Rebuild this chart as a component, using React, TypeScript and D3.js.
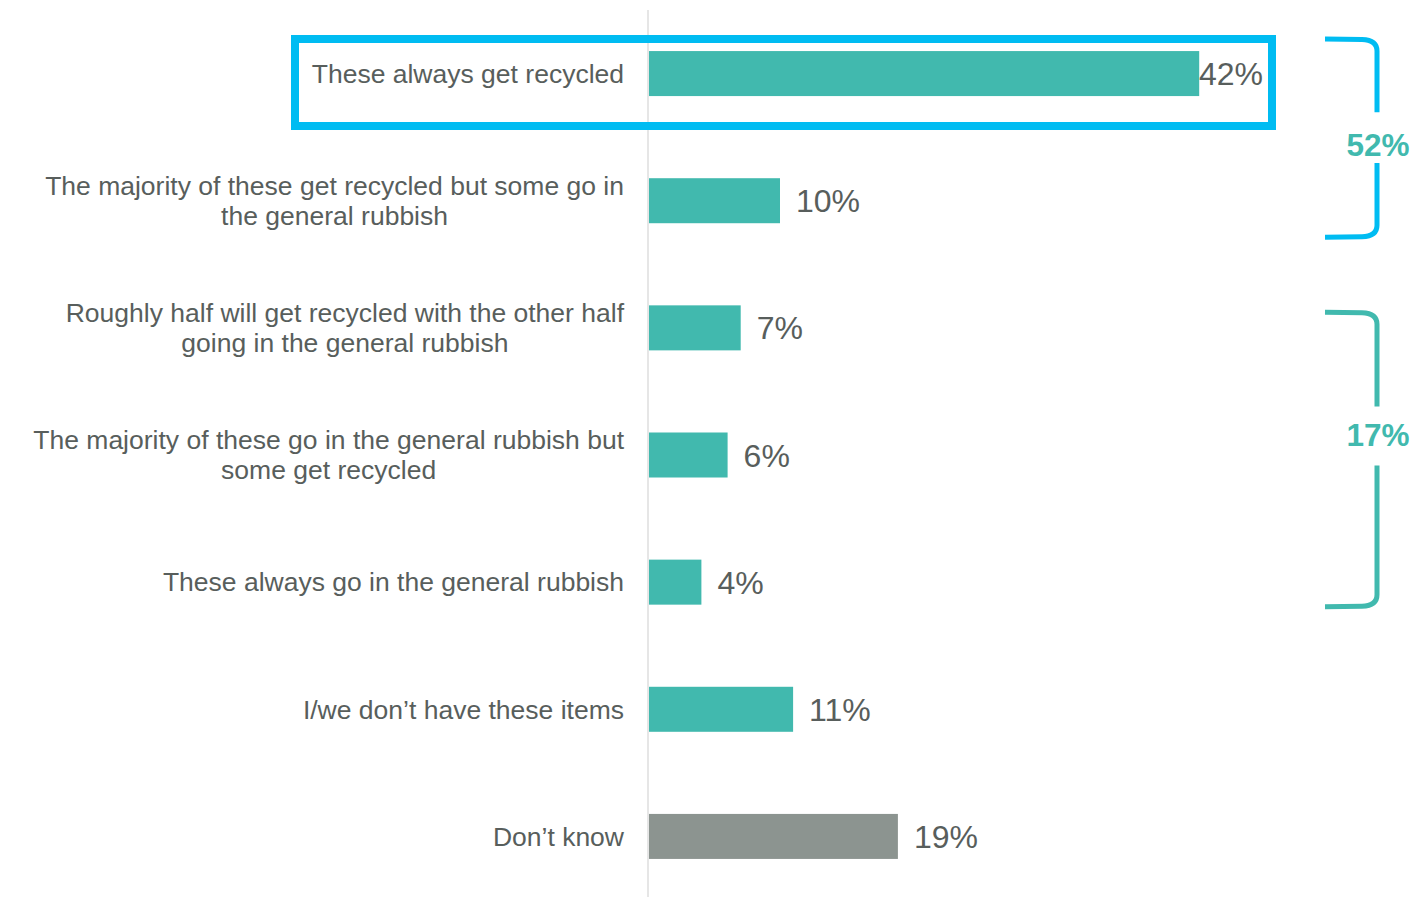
import React from "react";
import * as d3 from "d3";

const categories: string[][] = [
  ["These always get recycled"],
  ["The majority of these get recycled but some go in", "the general rubbish"],
  ["Roughly half will get recycled with the other half", "going in the general rubbish"],
  ["The majority of these go in the general rubbish but", "some get recycled"],
  ["These always go in the general rubbish"],
  ["I/we don\u2019t have these items"],
  ["Don\u2019t know"],
];
const values: number[] = [42, 10, 7, 6, 4, 11, 19];
const barColors: string[] = ["#41b9ae", "#41b9ae", "#41b9ae", "#41b9ae", "#41b9ae", "#41b9ae", "#8c9490"];

const groupLabels: string[] = ["52%", "17%"];
const groupStart: number[] = [0, 2];
const groupEnd: number[] = [1, 4];
const groupColors: string[] = ["#00bcf2", "#41b9ae"];
const groupTextColor = "#41b9ae";

const W = 1412;
const H = 897;
const FONT = "'Liberation Sans', Arial, sans-serif";
const TEXT = "#585e5c";
const LABEL_SIZE = 26.5;
const LABEL_RIGHT = 624;

function measure(text: string, size: number): number {
  const c = document.createElement("canvas").getContext("2d");
  if (!c) return text.length * size * 0.5;
  c.font = `${size}px ${FONT}`;
  return c.measureText(text).width;
}

export default function App() {
  const keys = categories.map((c) => c.join(" "));
  const x = d3.scaleLinear().domain([0, 50]).range([649, 649 + 655]);
  const y = d3
    .scaleBand<string>()
    .domain(keys)
    .range([10, 900])
    .paddingInner(0.646)
    .paddingOuter(0.323);
  const bw = y.bandwidth();

  const padTop = [12, -7];
  const padBot = [14, 2];
  const textFrac = [0.535, 0.418];
  const gapTopFrac = [0.369, 0.32];
  const gapBotFrac = [0.626, 0.52];

  return (
    <div style={{ position: "absolute", left: 0, top: 0 }}>
      <svg width={W} height={H} style={{ display: "block", fontFamily: FONT }}>
        <rect width={W} height={H} fill="#ffffff" />
        <line x1={648} x2={648} y1={10} y2={H} stroke="#e6e6e6" strokeWidth={2} />
        {keys.map((k, i) => {
          const y0 = y(k)!;
          const cy = y0 + bw / 2;
          const lines = categories[i];
          const maxW = Math.max(...lines.map((l) => measure(l, LABEL_SIZE)));
          const cx = LABEL_RIGHT - maxW / 2;
          const lh = 30;
          const startY = cy - ((lines.length - 1) * lh) / 2;
          const vx = Math.min(x(values[i]) + 16, 1199);
          return (
            <g key={k}>
              <rect x={x(0)} y={y0} width={x(values[i]) - x(0)} height={bw} fill={barColors[i]} />
              <text x={cx} textAnchor="middle" fontSize={LABEL_SIZE} fill={TEXT}>
                {lines.map((l, j) => (
                  <tspan key={j} x={cx} y={startY + j * lh} dy="0.35em">
                    {l}
                  </tspan>
                ))}
              </text>
              <text x={vx} y={cy} dy="0.36em" fontSize={32} fill={TEXT}>
                {values[i]}%
              </text>
            </g>
          );
        })}
        <rect x={295} y={39} width={977} height={87} fill="none" stroke="#00bcf2" strokeWidth={8} />
        {groupLabels.map((g, i) => {
          const top = y(keys[groupStart[i]])! - padTop[i];
          const bot = y(keys[groupEnd[i]])! + bw + padBot[i];
          const span = bot - top;
          const ty = top + span * textFrac[i];
          const g1 = top + span * gapTopFrac[i];
          const g2 = top + span * gapBotFrac[i];
          const vx = 1377;
          const path1 = `M1325,${top} L1362,${top + 0.5} Q${vx},${top + 1} ${vx},${top + 12} L${vx},${g1}`;
          const path2 = `M${vx},${g2} L${vx},${bot - 12} Q${vx},${bot - 1} 1362,${bot - 0.5} L1325,${bot}`;
          return (
            <g key={g}>
              <path d={path1} fill="none" stroke={groupColors[i]} strokeWidth={5} />
              <path d={path2} fill="none" stroke={groupColors[i]} strokeWidth={5} />
              <text
                x={vx + 1}
                y={ty}
                dy="0.35em"
                textAnchor="middle"
                fontSize={31.5}
                fontWeight="bold"
                fill={groupTextColor}
              >
                {g}
              </text>
            </g>
          );
        })}
      </svg>
    </div>
  );
}
